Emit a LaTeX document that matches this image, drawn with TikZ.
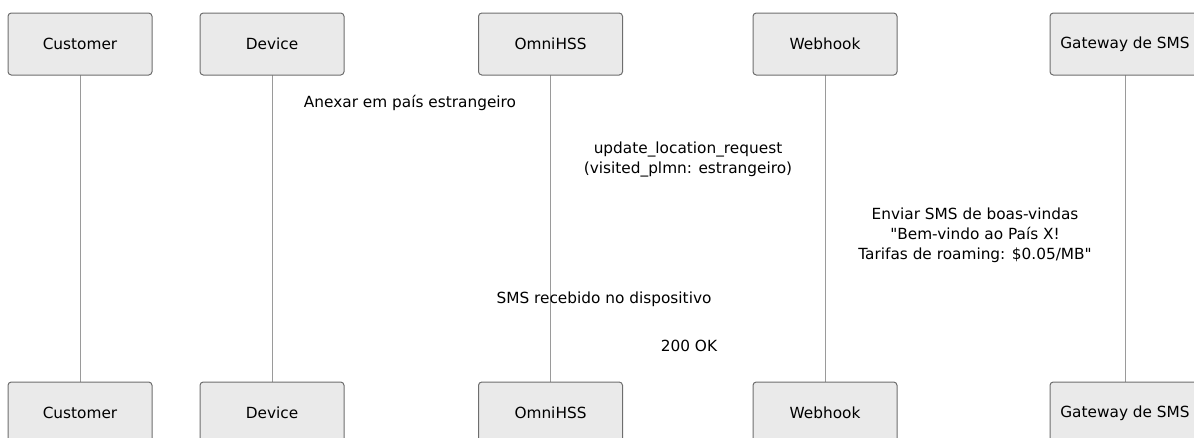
\documentclass[tikz,border=0pt]{standalone}
\usepackage{fontspec}
\setmainfont{DejaVu Sans}[Ligatures=TeXOff]
\definecolor{boxfill}{HTML}{EAEAEA}
\definecolor{boxdraw}{HTML}{6E6E6E}
\definecolor{lifeline}{HTML}{9A9A9A}
\begin{document}
\begin{tikzpicture}[x=0.75pt,y=-0.75pt,
  actor/.style={draw=boxdraw,fill=boxfill,line width=0.75pt,rounded corners=2.5pt,
    minimum width=108pt,minimum height=46.5pt,inner sep=0pt,font=\fontsize{11.5}{15}\selectfont},
  life/.style={draw=lifeline,line width=0.75pt},
  msg/.style={align=center,inner sep=0pt,font=\fontsize{11.5}{15}\selectfont}]
\useasboundingbox (0,0) rectangle (1194,437);
\foreach \n/\x/\t/\w in {cu/80/Customer/108pt,de/272/Device/108pt,om/550.5/OmniHSS/108pt,wh/825/Webhook/108pt,gw/1125/Gateway de SMS/112.5pt}{
  \draw[life] (\x,75) -- (\x,382);
  \node[actor,minimum width=\w] (\n top) at (\x,44) {\t};
  \node[actor,minimum width=\w] (\n bot) at (\x,413) {\t};
}
\node[msg] (m1) at (410,103) {Anexar em país estrangeiro};
\node[msg] (m2) at (688,159) {update\_location\_request\\(visited\_plmn: estrangeiro)};
\node[msg] (m3) at (975,235) {Enviar SMS de boas-vindas\\"Bem-vindo ao País X!\\Tarifas de roaming: \$0.05/MB"};
\node[msg] (m4) at (604,299) {SMS recebido no dispositivo};
\node[msg] (m5) at (689,346) {200 OK};
\end{tikzpicture}
\end{document}
